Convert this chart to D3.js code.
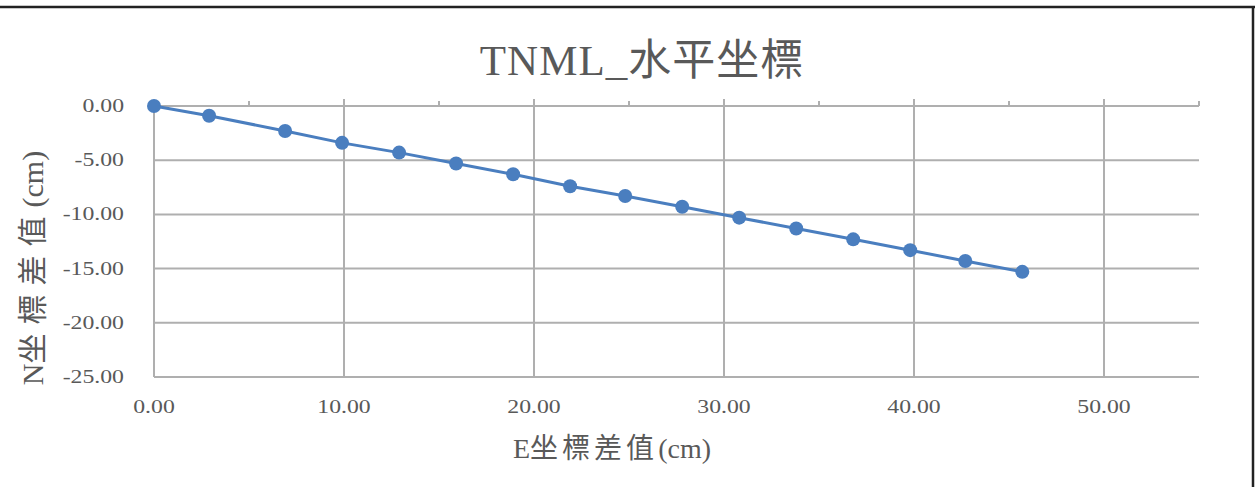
<!DOCTYPE html>
<html lang="zh-Hant">
<head>
<meta charset="UTF-8"/>
<title>TNML_水平坐標</title>
<script src="https://d3js.org/d3.v7.min.js"></script>
<style>
    body { margin: 0; background: #fff; }
    text { font-family: "Liberation Serif", "Noto Sans CJK TC", serif; fill: #595959; }
</style>
</head>
<body>
<script>
    // Data
    var eValues = [0, 2.9, 6.9, 9.9, 12.9, 15.9, 18.9, 21.9, 24.8, 27.8, 30.8, 33.8, 36.8, 39.8, 42.7, 45.7];
    var nValues = [0, -0.9, -2.3, -3.4, -4.3, -5.3, -6.3, -7.4, -8.3, -9.3, -10.3, -11.3, -12.3, -13.3, -14.3, -15.3];
    var xTicks = [0, 10, 20, 30, 40, 50];
    var xMinorTicks = [5, 15, 25, 35, 45, 55];
    var yTicks = [0, -5, -10, -15, -20, -25];

    var w = 1255, h = 487;
    // plot area edges (note: "top" is a reserved window property)
    var plotLeft = 154, plotRight = 1199, plotTop = 106, plotBottom = 377;
    var blue = "#4a7ebf";
    var grid = "#afafaf";

    // plain hyphen for negatives, like the original
    var fmt = d3.formatLocale({decimal: ".", thousands: ",", grouping: [3], currency: ["", ""], minus: "-"}).format(".2f");

    var svg = d3.select("body").append("svg")
        .attr("width", w)
        .attr("height", h);

    var x = d3.scaleLinear().domain([0, 55]).range([plotLeft, plotRight]);
    var y = d3.scaleLinear().domain([0, -25]).range([plotTop, plotBottom]);

    // frame edges visible in picture (top and right)
    svg.append("line").attr("x1", 0).attr("x2", w).attr("y1", 7).attr("y2", 7)
        .attr("stroke", "#222").attr("stroke-width", 2.5);
    svg.append("line").attr("x1", 1253).attr("x2", 1253).attr("y1", 6).attr("y2", h)
        .attr("stroke", "#222").attr("stroke-width", 2.5);

    // horizontal gridlines
    svg.append("g").selectAll("line")
        .data(yTicks.slice(1))
        .enter().append("line")
        .attr("x1", plotLeft).attr("x2", plotRight)
        .attr("y1", function(d) { return y(d); })
        .attr("y2", function(d) { return y(d); })
        .attr("stroke", grid).attr("stroke-width", 2);

    // vertical gridlines (cross the axis at the top)
    svg.append("g").selectAll("line")
        .data(xTicks.slice(1))
        .enter().append("line")
        .attr("x1", function(d) { return x(d); })
        .attr("x2", function(d) { return x(d); })
        .attr("y1", plotTop - 7).attr("y2", plotBottom)
        .attr("stroke", grid).attr("stroke-width", 2);

    // minor ticks on the top axis
    svg.append("g").selectAll("line")
        .data(xMinorTicks)
        .enter().append("line")
        .attr("x1", function(d) { return x(d); })
        .attr("x2", function(d) { return x(d); })
        .attr("y1", plotTop - 5).attr("y2", plotTop)
        .attr("stroke", grid).attr("stroke-width", 2);

    // axis lines
    svg.append("line").attr("x1", plotLeft).attr("x2", plotRight)
        .attr("y1", y(0)).attr("y2", y(0))
        .attr("stroke", grid).attr("stroke-width", 2);
    svg.append("line").attr("x1", plotLeft).attr("x2", plotLeft)
        .attr("y1", y(0)).attr("y2", plotBottom)
        .attr("stroke", grid).attr("stroke-width", 2);

    // tick labels
    svg.append("g").selectAll("text")
        .data(xTicks)
        .enter().append("text")
        .attr("transform", function(d) { return "translate(" + x(d) + "," + 413 + ") scale(1.25,1)"; })
        .attr("text-anchor", "middle")
        .attr("font-size", "19px")
        .text(function(d) { return fmt(d); });

    svg.append("g").selectAll("text")
        .data(yTicks)
        .enter().append("text")
        .attr("transform", function(d) { return "translate(" + 124 + "," + (y(d) + 6) + ") scale(1.25,1)"; })
        .attr("text-anchor", "end")
        .attr("font-size", "19px")
        .text(function(d) { return fmt(d); });

    // series line and markers
    var points = eValues.map(function(d, i) { return [d, nValues[i]]; });
    var line = d3.line()
        .x(function(d) { return x(d[0]); })
        .y(function(d) { return y(d[1]); });

    svg.append("path")
        .datum(points)
        .attr("d", line)
        .attr("fill", "none")
        .attr("stroke", blue)
        .attr("stroke-width", 3);

    svg.append("g").selectAll("circle")
        .data(points)
        .enter().append("circle")
        .attr("cx", function(d) { return x(d[0]); })
        .attr("cy", function(d) { return y(d[1]); })
        .attr("r", 7)
        .attr("fill", blue);

    // title and axis titles
    svg.append("text")
        .attr("x", 642).attr("y", 75)
        .attr("text-anchor", "middle")
        .attr("font-size", "43px")
        .attr("letter-spacing", "1px")
        .text("TNML_水平坐標");

    // CJK part spaced out, latin part tight
    function spacedLabel(sel, head, cjk, tail, gap) {
        sel.append("tspan").text(head);
        sel.append("tspan").attr("letter-spacing", gap).text(cjk);
        sel.append("tspan").text(tail);
    }

    var xLabel = svg.append("text")
        .attr("x", 612).attr("y", 458)
        .attr("text-anchor", "middle")
        .attr("font-size", "28px");
    spacedLabel(xLabel, "E", "坐標差值", "(cm)", "4px");

    var yLabel = svg.append("text")
        .attr("transform", "translate(43," + 268 + ") rotate(-90)")
        .attr("text-anchor", "middle")
        .attr("font-size", "30px");
    spacedLabel(yLabel, "N", "坐標差值", "(cm)", "9px");
</script>
</body>
</html>
